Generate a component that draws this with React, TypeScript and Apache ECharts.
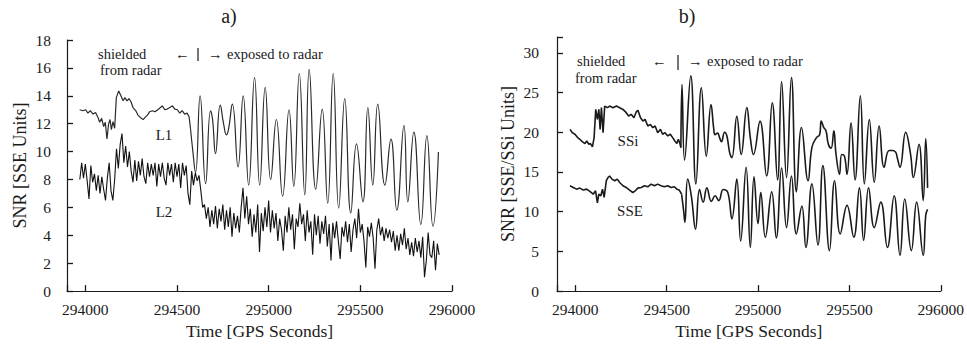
import React, { useEffect, useRef } from "react";
import * as echarts from "echarts";

// ---------- tick labels ----------
const xTicks = [294000, 294500, 295000, 295500, 296000];
const yTicksA = [0, 2, 4, 6, 8, 10, 12, 14, 16, 18];
const yTicksB = [0, 5, 10, 15, 20, 25, 30];

// ---------- panel a) : L1 ----------
const l1Shielded: [number, number][] = [
  [293969, 13.0], [293987, 12.93], [294002, 13.0], [294014, 12.76], [294027, 12.93], [294042, 12.69],
  [294056, 12.81], [294069, 12.45], [294078, 12.1], [294089, 12.38], [294100, 11.8], [294109, 12.1],
  [294118, 10.9], [294127, 12.0], [294135, 12.3], [294142, 11.58], [294151, 12.15], [294160, 11.67],
  [294169, 13.87], [294182, 14.35], [294193, 14.04], [294206, 13.64], [294216, 13.87], [294227, 13.64],
  [294238, 13.8], [294249, 13.57], [294260, 13.16], [294275, 12.93], [294287, 12.62], [294300, 12.45],
  [294315, 12.29], [294326, 12.45], [294339, 12.62], [294351, 12.86], [294366, 12.93], [294380, 12.86],
  [294395, 13.0], [294410, 13.16], [294420, 13.28], [294433, 13.0], [294446, 13.05], [294461, 13.16],
  [294475, 13.28], [294488, 13.05], [294502, 13.0], [294515, 12.76], [294528, 12.93], [294542, 12.69],
  [294555, 12.76], [294566, 12.5], [294574, 11.6],
];
const l1Exposed: [number, number][] = [
  [294574, 11.6], [294585, 10.2], [294601, 8.5], [294626, 14.0], [294656, 7.7], [294683, 12.93],
  [294694, 12.3], [294710, 9.86], [294736, 13.33], [294754, 12.0], [294770, 11.2], [294781, 11.6],
  [294802, 13.4], [294833, 8.9], [294861, 14.0], [294891, 7.6], [294923, 15.3], [294951, 7.6],
  [294981, 14.6], [295011, 8.0], [295042, 12.3], [295076, 6.8], [295111, 13.0], [295137, 7.5],
  [295167, 15.6], [295197, 6.9], [295221, 15.9], [295257, 7.3], [295292, 13.05], [295322, 6.3],
  [295352, 15.6], [295382, 5.95], [295415, 13.8], [295448, 5.6], [295479, 10.56], [295514, 6.4],
  [295541, 13.16], [295568, 7.6], [295595, 13.4], [295634, 7.6], [295667, 10.9], [295699, 5.8],
  [295738, 11.86], [295759, 6.4], [295792, 11.4], [295830, 4.77], [295863, 11.15], [295896, 4.65],
  [295926, 9.97],
];

// ---------- panel a) : L2 (sampled every 10 s from 293970) ----------
const l2Start = 293970;
const l2Step = 10;
const l2Values = [
  8.0, 9.2, 8.1, 9.1, 7.9, 6.6, 9.0, 7.8, 8.4, 7.2, 8.3, 7.0, 8.2, 7.3, 6.5, 8.1, 9.2, 7.2, 6.5, 8.0,
  10.2, 8.8, 10.5, 11.3, 9.2, 10.4, 8.9, 10.0, 8.6, 7.8, 9.4, 7.9, 9.3, 8.3, 9.5, 8.2, 7.7, 9.2, 8.2, 9.1,
  8.3, 9.2, 7.5, 9.1, 8.2, 9.2, 8.1, 7.6, 9.2, 8.3, 9.1, 7.8, 9.2, 8.2, 9.1, 7.4, 9.2, 8.3, 9.0, 7.0,
  6.2, 8.6, 7.6, 8.5, 7.9, 8.3, 7.2, 6.0,
  6.2, 5.2, 6.0, 4.6, 5.8, 4.8, 6.1, 4.5, 5.9, 5.0, 6.2, 4.4, 5.8, 4.6, 6.0, 3.9, 5.6, 4.5, 5.4, 4.2,
  6.0, 7.4, 5.2, 6.8, 4.8, 5.9, 3.9, 5.5, 4.2, 6.2, 2.8, 5.6, 4.3, 6.0, 4.6, 6.5, 4.2, 5.8, 4.5, 5.6,
  3.6, 5.2, 4.4, 2.9, 5.4, 4.2, 6.0, 4.4, 5.5, 3.0, 5.2, 4.6, 6.3, 4.8, 5.5, 3.6, 5.8, 4.2, 5.0, 2.6,
  5.5, 4.0, 5.4, 3.4, 5.0, 4.1, 5.4, 3.2, 4.8, 2.2, 4.9, 3.8, 5.0, 3.6, 2.3, 4.6, 3.9, 5.0, 3.5, 4.8,
  2.8, 4.4, 5.2, 3.8, 5.9, 4.2, 4.8, 3.6, 1.7, 4.6, 3.9, 4.9, 3.8, 1.6, 4.4, 5.2, 4.0, 4.6, 3.6, 4.5,
  3.8, 4.4, 3.5, 4.3, 2.9, 4.0, 2.9, 4.1, 3.3, 4.5, 3.0, 3.8, 2.6, 3.5, 2.5, 3.8, 2.8, 3.6, 2.4, 3.9,
  1.0, 2.2, 4.2, 2.6, 2.4, 3.6, 1.5, 3.4, 2.6,
];

// ---------- panel b) : SSi ----------
const ssiShielded: [number, number][] = [
  [293971, 20.37], [293984, 19.95], [293998, 19.75], [294013, 19.33], [294025, 19.12], [294038, 18.83],
  [294053, 18.58], [294063, 18.9], [294074, 18.5], [294083, 18.58], [294094, 18.16], [294103, 19.33],
  [294112, 22.88], [294121, 21.63], [294129, 22.88], [294136, 20.37], [294143, 23.1], [294152, 19.95],
  [294161, 23.3], [294176, 23.1], [294188, 23.3], [294207, 23.1], [294225, 23.3], [294243, 23.1],
  [294261, 22.88], [294279, 22.47], [294292, 22.05], [294306, 22.26], [294321, 21.84], [294334, 22.59],
  [294343, 22.76], [294357, 21.84], [294370, 21.42], [294382, 21.63], [294397, 20.79], [294411, 21.0],
  [294424, 20.58], [294437, 20.79], [294451, 19.95], [294466, 20.37], [294478, 19.75], [294491, 19.95],
  [294506, 19.54], [294520, 19.75], [294533, 19.33], [294545, 18.9], [294556, 18.58], [294564, 19.12],
  [294571, 18.7], [294578, 18.07],
];
const ssiExposed: [number, number][] = [
  [294578, 18.07], [294584, 26.0], [294598, 16.5], [294632, 27.1], [294660, 13.5], [294690, 25.6],
  [294717, 17.0], [294743, 23.5], [294757, 20.6], [294765, 19.7], [294779, 19.9], [294790, 19.3],
  [294800, 18.8], [294817, 20.0], [294830, 19.5], [294845, 17.4], [294857, 16.8], [294884, 22.0],
  [294908, 17.2], [294939, 23.1], [294958, 19.3], [294975, 17.2], [295011, 21.4], [295047, 14.5],
  [295078, 23.7], [295107, 14.0], [295129, 26.4], [295156, 14.3], [295183, 26.9], [295210, 12.5],
  [295238, 20.6], [295274, 13.9], [295295, 18.1], [295319, 19.3], [295337, 19.7], [295346, 21.4],
  [295360, 20.6], [295372, 20.2], [295385, 18.5], [295400, 18.0], [295415, 20.2], [295427, 17.2],
  [295446, 14.7], [295458, 17.2], [295473, 17.0], [295487, 14.7], [295509, 21.2], [295531, 14.0],
  [295560, 24.6], [295582, 13.5], [295609, 21.6], [295636, 13.7], [295663, 20.8], [295690, 15.6],
  [295717, 17.7], [295735, 17.7], [295753, 17.5], [295762, 16.8], [295777, 15.6], [295808, 20.0],
  [295835, 17.2], [295850, 14.3], [295881, 18.5], [295904, 11.4], [295918, 19.2], [295928, 13.0],
];

// ---------- panel b) : SSE ----------
const sseShielded: [number, number][] = [
  [293971, 13.26], [293989, 13.05], [294007, 12.84], [294025, 12.97], [294044, 12.72], [294062, 12.84],
  [294080, 12.55], [294098, 12.2], [294111, 12.63], [294121, 11.1], [294129, 12.2], [294140, 12.0],
  [294149, 12.84], [294158, 11.8], [294170, 13.9], [294179, 14.3], [294188, 14.5], [294201, 14.1],
  [294216, 13.9], [294230, 14.1], [294243, 13.68], [294261, 13.26], [294279, 13.05], [294297, 12.72],
  [294315, 12.42], [294328, 12.63], [294342, 12.97], [294361, 13.05], [294379, 13.26], [294397, 13.14],
  [294415, 13.47], [294433, 13.26], [294451, 13.47], [294469, 13.26], [294487, 13.14], [294506, 13.26],
  [294524, 13.05], [294542, 13.14], [294556, 12.84], [294569, 12.72], [294582, 12.2],
];
const sseExposed: [number, number][] = [
  [294582, 12.2], [294593, 10.1], [294600, 8.66], [294615, 14.1], [294635, 12.0], [294658, 7.8],
  [294680, 12.8], [294700, 11.2], [294720, 13.0], [294745, 11.3], [294765, 12.0], [294785, 11.4],
  [294810, 12.8], [294835, 12.4], [294857, 9.1], [294884, 14.1], [294905, 6.3], [294935, 15.6],
  [294958, 5.5], [294978, 14.4], [295000, 8.5], [295015, 12.4], [295040, 6.8], [295075, 12.5],
  [295100, 6.7], [295129, 15.5], [295156, 8.0], [295183, 14.5], [295210, 7.2], [295240, 10.7],
  [295262, 5.5], [295295, 13.5], [295328, 5.8], [295355, 15.8], [295391, 5.1], [295419, 13.9],
  [295450, 7.2], [295487, 10.8], [295524, 6.8], [295555, 13.0], [295578, 6.4], [295605, 13.0],
  [295636, 8.0], [295672, 11.2], [295708, 5.5], [295745, 12.0], [295777, 4.5], [295803, 11.6],
  [295839, 5.1], [295868, 11.2], [295904, 4.5], [295918, 9.6], [295928, 10.3],
];

const SERIF = '"Liberation Serif", "Times New Roman", "DejaVu Serif", serif';
const INK = "#1a1a1a";

function xAxisCfg(gridIndex: number) {
  return {
    gridIndex,
    type: "value",
    min: 293900,
    max: 296000,
    splitNumber: 4,
    name: "Time [GPS Seconds]",
    nameLocation: "middle",
    nameGap: 28,
    nameTextStyle: { fontFamily: SERIF, fontSize: 17.5, color: INK },
    axisLine: { onZero: false, lineStyle: { color: INK, width: 1.2 } },
    axisTick: { show: true, inside: true, length: 6, lineStyle: { color: INK, width: 1.3 } },
    axisLabel: {
      margin: 10,
      fontFamily: SERIF,
      fontSize: 15.5,
      color: INK,
      formatter: (v: number) => (xTicks.indexOf(v) >= 0 ? String(v) : ""),
    },
    splitLine: { show: false },
  };
}

function yAxisCfg(gridIndex: number, max: number, interval: number, ticks: number[], name: string, nameGap: number, margin: number) {
  return {
    gridIndex,
    type: "value",
    min: 0,
    max,
    interval,
    name,
    nameLocation: "middle",
    nameGap,
    nameTextStyle: { fontFamily: SERIF, fontSize: 18, color: INK },
    axisLine: { show: true, onZero: false, lineStyle: { color: INK, width: 1.2 } },
    axisTick: { show: true, inside: true, length: 6, lineStyle: { color: INK, width: 1.3 } },
    axisLabel: {
      margin,
      fontFamily: SERIF,
      fontSize: 15.5,
      color: INK,
      formatter: (v: number) => (ticks.indexOf(v) >= 0 ? String(v) : ""),
    },
    splitLine: { show: false },
  };
}

function lineSeries(data: [number, number][], idx: number, width: number, color: string, smooth: number | boolean) {
  return {
    type: "line",
    xAxisIndex: idx,
    yAxisIndex: idx,
    data,
    showSymbol: false,
    symbol: "none",
    smooth,
    lineStyle: { width, color },
    silent: true,
  };
}

function txt(text: string, x: number, y: number, size: number, align = "left") {
  return {
    type: "text",
    x,
    y,
    silent: true,
    style: { text, fill: INK, font: `${size}px ${SERIF}`, align, verticalAlign: "middle" },
  };
}

function vbar(x: number, y1: number, y2: number) {
  return { type: "line", silent: true, shape: { x1: x, y1, x2: x, y2 }, style: { stroke: INK, lineWidth: 1.2 } };
}

export default function App() {
  const ref = useRef<HTMLDivElement>(null);
  useEffect(() => {
    if (!ref.current) return;
    const chart = echarts.init(ref.current, null, { renderer: "svg" });
    const l2Data: [number, number][] = l2Values.map((v, i) => [l2Start + i * l2Step, v]);
    const option: any = {
      animation: false,
      backgroundColor: "#ffffff",
      grid: [
        { left: 67, top: 40, width: 385, height: 254, containLabel: false },
        { left: 557, top: 37, width: 385, height: 255, containLabel: false },
      ],
      xAxis: [xAxisCfg(0), xAxisCfg(1)],
      yAxis: [
        yAxisCfg(0, 18, 2, yTicksA, "SNR [SSE Units]", 38, 16),
        yAxisCfg(1, 32, 5, yTicksB, "SNR [SSE/SSi Units]", 40, 18),
      ],
      series: [
        lineSeries(l2Data, 0, 1.1, "#111111", false),
        lineSeries(l1Shielded, 0, 1.2, "#2a2a2a", false),
        lineSeries(l1Exposed, 0, 1.2, "#2a2a2a", 0.5),
        lineSeries(ssiShielded, 1, 1.6, "#1a1a1a", false),
        lineSeries(ssiExposed, 1, 1.6, "#1a1a1a", 0.45),
        lineSeries(sseShielded, 1, 1.6, "#1a1a1a", false),
        lineSeries(sseExposed, 1, 1.6, "#1a1a1a", 0.45),
      ],
      graphic: [
        txt("a)", 229, 16, 20, "center"),
        txt("b)", 687, 16, 20, "center"),
        txt("shielded", 98, 54, 14.5),
        txt("from radar", 100, 70, 14.5),
        txt("\u2190", 175, 54, 14.5),
        vbar(198, 48, 61),
        txt("\u2192", 208, 54, 14.5),
        txt("exposed to radar", 227, 54, 14.5),
        txt("L1", 164, 135, 15, "center"),
        txt("L2", 164, 212, 15, "center"),
        txt("shielded", 577, 61, 14.5),
        txt("from radar", 575, 78, 14.5),
        txt("\u2190", 652, 61, 14.5),
        vbar(678, 55, 70),
        txt("\u2192", 688, 61, 14.5),
        txt("exposed to radar", 707, 61, 14.5),
        txt("SSi", 628, 141, 15, "center"),
        txt("SSE", 630, 211, 15, "center"),
      ],
    };
    chart.setOption(option);
    return () => chart.dispose();
  }, []);
  return (
    <div
      ref={ref}
      style={{ position: "fixed", left: 0, top: 0, width: 967, height: 345, background: "#fff" }}
    />
  );
}
